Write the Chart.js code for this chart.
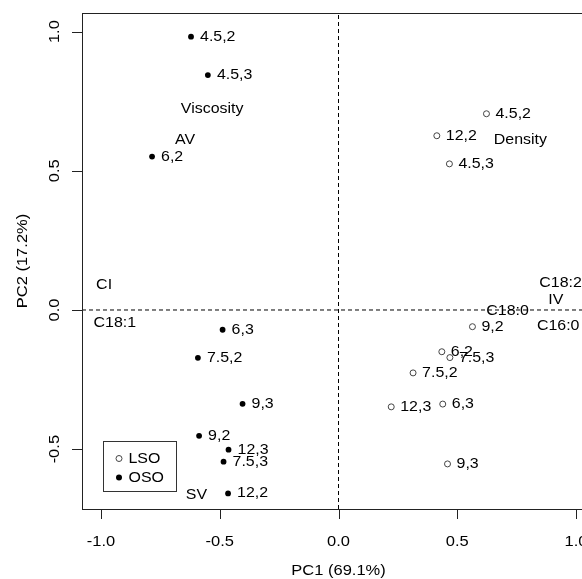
<!DOCTYPE html>
<html><head><meta charset="utf-8">
<script src="https://cdn.jsdelivr.net/npm/chart.js@4"></script>
<style>html,body{margin:0;padding:0;overflow:hidden;background:#fff}#wrap{width:600px;height:579px}</style>
</head><body><div id="wrap"><canvas id="c"></canvas></div>
<script>
const osoLabels = ['4.5,2','4.5,3','6,2','6,3','7.5,2','9,3','9,2','12,3','7.5,3','12,2'];
const osoX = [-0.621,-0.550,-0.785,-0.488,-0.592,-0.404,-0.587,-0.463,-0.484,-0.465];
const osoY = [0.982,0.844,0.551,-0.071,-0.172,-0.337,-0.452,-0.502,-0.545,-0.659];
const lsoLabels = ['4.5,2','12,2','4.5,3','9,2','6,2','7.5,3','7.5,2','12,3','6,3','9,3'];
const lsoX = [0.623,0.414,0.467,0.564,0.435,0.469,0.314,0.222,0.439,0.459];
const lsoY = [0.705,0.626,0.525,-0.060,-0.150,-0.171,-0.226,-0.348,-0.338,-0.553];
const varNames = ['Viscosity','AV','CI','C18:1','SV','Density','C18:2','IV','C18:0','C16:0'];
const varX = [-0.532,-0.646,-0.987,-0.942,-0.598,0.766,0.935,0.915,0.712,0.925];
const varY = [0.723,0.609,0.091,-0.048,-0.663,0.612,0.097,0.037,-0.003,-0.057];
const xTicks = [-1.0,-0.5,0.0,0.5,1.0];
const yTicks = [-0.5,0.0,0.5,1.0];
const xTickLabels = ['-1.0','-0.5','0.0','0.5','1.0'];
const yTickLabels = ['-0.5','0.0','0.5','1.0'];
const xTitle = 'PC1 (69.1%)';
const yTitle = 'PC2 (17.2%)';
const seriesNames = ['LSO','OSO'];
const xLim = [-1.08, 1.08];
const yLim = [-0.715, 1.067];

const SX = 1.1;
function txt(ctx, s, x, y, align, rot, size) {
  ctx.save();
  ctx.translate(x, y);
  if (rot) ctx.rotate(rot);
  ctx.scale(SX, 1);
  ctx.font = (size || 14.5) + 'px "Liberation Sans", Arial, sans-serif';
  ctx.fillStyle = '#000';
  ctx.textAlign = align || 'left';
  ctx.textBaseline = 'middle';
  ctx.fillText(s, 0, 0);
  ctx.restore();
}
const toPts = (xs, ys) => xs.map((v, i) => ({x: v, y: ys[i]}));

const overlay = {
  id: 'overlay',
  afterDraw(chart) {
    const ctx = chart.ctx, a = chart.chartArea;
    const sx = chart.scales.x, sy = chart.scales.y;
    ctx.save();
    ctx.strokeStyle = '#222'; ctx.lineWidth = 1;
    ctx.strokeRect(Math.round(a.left) + 0.5, Math.round(a.top) + 0.5, Math.round(a.right - a.left), Math.round(a.bottom - a.top));
    ctx.beginPath();
    xTicks.forEach(v => { const p = Math.round(sx.getPixelForValue(v)) + 0.5; ctx.moveTo(p, a.bottom); ctx.lineTo(p, a.bottom + 10); });
    yTicks.forEach(v => { const p = Math.round(sy.getPixelForValue(v)) + 0.5; ctx.moveTo(a.left, p); ctx.lineTo(a.left - 10, p); });
    ctx.stroke();
    xTicks.forEach((v, i) => txt(ctx, xTickLabels[i], sx.getPixelForValue(v), 542, 'center', 0, 15));
    yTicks.forEach((v, i) => txt(ctx, yTickLabels[i], 55, sy.getPixelForValue(v), 'center', -Math.PI / 2, 15));
    txt(ctx, xTitle, (a.left + a.right) / 2, 571, 'center', 0, 15);
    txt(ctx, yTitle, 23, (a.top + a.bottom) / 2, 'center', -Math.PI / 2, 15);
    osoLabels.forEach((s, i) => txt(ctx, s, sx.getPixelForValue(osoX[i]) + 9, sy.getPixelForValue(osoY[i]), 'left'));
    lsoLabels.forEach((s, i) => txt(ctx, s, sx.getPixelForValue(lsoX[i]) + 9, sy.getPixelForValue(lsoY[i]), 'left'));
    varNames.forEach((s, i) => txt(ctx, s, sx.getPixelForValue(varX[i]), sy.getPixelForValue(varY[i]), 'center'));
    // legend box
    ctx.strokeStyle = '#333';
    ctx.strokeRect(103.5, 441.5, 73, 50);
    ctx.beginPath(); ctx.arc(119, 458.5, 3, 0, Math.PI * 2); ctx.strokeStyle = '#444'; ctx.stroke();
    ctx.beginPath(); ctx.arc(119, 477.5, 3, 0, Math.PI * 2); ctx.fillStyle = '#000'; ctx.fill();
    txt(ctx, seriesNames[0], 128.5, 458.5, 'left');
    txt(ctx, seriesNames[1], 128.5, 477.5, 'left');
    ctx.restore();
  }
};

new Chart(document.getElementById('c'), {
  type: 'scatter',
  data: {
    datasets: [
      {type: 'line', data: [{x: xLim[0], y: 0}, {x: xLim[1], y: 0}], borderColor: '#000', borderWidth: 1, borderDash: [4, 3], pointRadius: 0, fill: false},
      {type: 'line', data: [{x: 0, y: yLim[0]}, {x: 0, y: yLim[1]}], borderColor: '#000', borderWidth: 1, borderDash: [4, 3], pointRadius: 0, fill: false},
      {label: seriesNames[0], data: toPts(lsoX, lsoY), pointRadius: 3, pointBackgroundColor: '#fff', pointBorderColor: '#444', pointBorderWidth: 1},
      {label: seriesNames[1], data: toPts(osoX, osoY), pointRadius: 2.9, pointBackgroundColor: '#000', pointBorderColor: '#000', pointBorderWidth: 0}
    ]
  },
  options: {
    responsive: true, maintainAspectRatio: false, animation: false,
    layout: {padding: {top: 13, right: 5, left: 0, bottom: 0}},
    plugins: {legend: {display: false}, tooltip: {enabled: false}},
    scales: {
      x: {type: 'linear', min: xLim[0], max: xLim[1], grid: {display: false}, border: {display: false}, ticks: {display: false}, afterFit(s) { s.height = 70; }},
      y: {type: 'linear', min: yLim[0], max: yLim[1], grid: {display: false}, border: {display: false}, ticks: {display: false}, afterFit(s) { s.width = 82; }}
    }
  },
  plugins: [overlay]
});
</script></body></html>
